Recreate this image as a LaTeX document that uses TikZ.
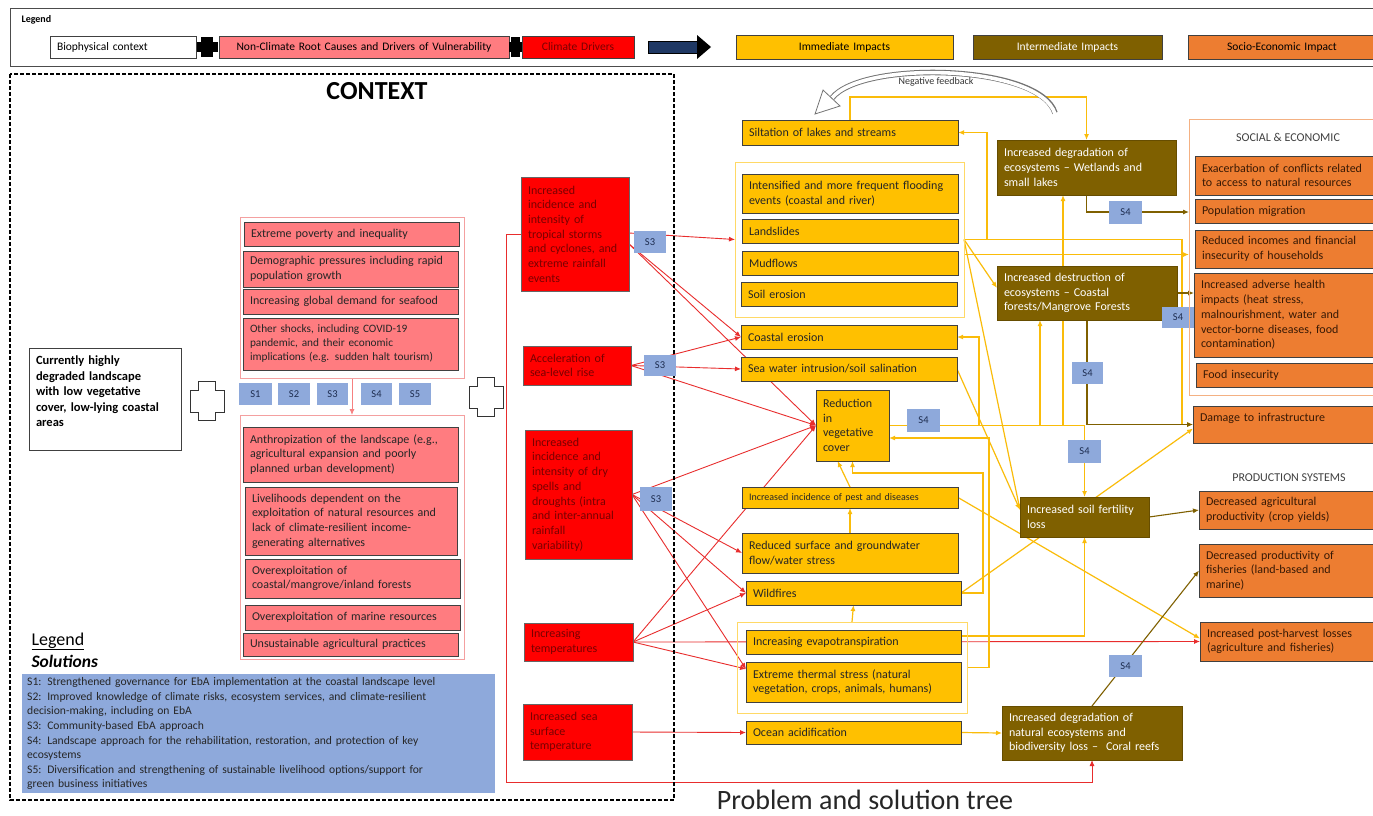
\documentclass[tikz,border=0pt]{standalone}
\usepackage{fontspec}
\setmainfont{Carlito}
\usetikzlibrary{arrows.meta,calc}

\definecolor{salmon}{HTML}{FF7C80}
\definecolor{salmonLine}{HTML}{F4A0A0}
\definecolor{cRed}{HTML}{FF0000}
\definecolor{cText}{RGB}{120,0,0}
\definecolor{amber}{HTML}{FFC000}
\definecolor{amberWire}{RGB}{250,188,10}
\definecolor{amberLine}{HTML}{FFD966}
\definecolor{myOlive}{HTML}{7F6000}
\definecolor{sOrange}{HTML}{ED7D31}
\definecolor{sOrangeLine}{HTML}{F4B183}
\definecolor{seText}{RGB}{55,25,5}
\definecolor{sBlue}{HTML}{8EA9DB}
\definecolor{sText}{RGB}{30,45,80}
\definecolor{redLine}{RGB}{232,45,45}
\definecolor{navy}{RGB}{31,56,100}

\pgfdeclarelayer{bg}
\pgfsetlayers{bg,main}

% box from corner (x1,y1) to corner (x2,y2), pixel-like units
\newcommand{\bx}[7]{%
  \pgfmathsetmacro{\bxW}{#4-(#2)}%
  \pgfmathsetmacro{\bxH}{#5-(#3)}%
  \pgfmathsetmacro{\bxT}{#4-(#2)-14}%
  \node[#6, anchor=north west, minimum width=\bxW pt, minimum height=\bxH pt, text width=\bxT pt] (#1) at (#2,#3) {#7};}

\tikzset{
  box/.style={draw=black!75, line width=0.9pt, inner xsep=7pt, inner ysep=1pt, outer sep=0pt, align=left},
  ncbox/.style={box, fill=salmon, text=black!85},
  cdbox/.style={box, fill=cRed, draw=black!60, text=cText},
  imbox/.style={box, fill=amber, text=black!85},
  inbox/.style={box, fill=myOlive, draw=myOlive!80!black, text=white},
  sebox/.style={box, fill=sOrange, text=seText},
  lgbox/.style={box, align=center, font=\fontsize{11.5}{13}\selectfont},
  sbox/.style={fill=sBlue, inner sep=0pt, outer sep=0pt, align=center, text=sText, font=\fontsize{10.5}{12}\selectfont},
  grp/.style={line width=0.9pt, inner sep=0pt, outer sep=0pt},
  rarr/.style={draw=redLine, line width=0.9pt, -{Latex[length=6pt,width=5pt]}},
  yarr/.style={draw=amberWire, line width=1.2pt, -{Latex[length=6pt,width=5pt]}},
  barr/.style={draw=myOlive, line width=1.1pt, -{Latex[length=6pt,width=5pt]}},
  plusw/.style={draw=black!80, line width=0.8pt, fill=white}
}

\begin{document}
\begin{tikzpicture}[x=1pt, y=-1pt, font=\fontsize{12}{14.7}\selectfont]
\useasboundingbox (0,0) rectangle (1373,815);
\begin{pgfonlayer}{bg}
  \fill[white] (0,0) rectangle (1373,815);
\end{pgfonlayer}

% ---------------- top legend ----------------
\node[draw=black!70, line width=0.8pt, anchor=north west, minimum width=1370pt, minimum height=58pt, inner sep=0pt, outer sep=0pt] (lgFrame) at (10,8) {};
\node[anchor=west, font=\bfseries\fontsize{10}{11}\selectfont] (lgTitle) at (18,20) {Legend};
\bx{lgBio}{50}{36}{196}{58}{lgbox, align=left, fill=white}{Biophysical context}
\bx{lgNon}{219}{36}{509}{58}{lgbox, fill=salmon}{Non-Climate Root Causes and Drivers of Vulnerability}
\bx{lgCli}{522}{36}{634}{58}{lgbox, fill=cRed, text=cText}{Climate Drivers}
\bx{lgImm}{736}{35}{953}{59}{lgbox, fill=amber}{Immediate Impacts}
\bx{lgInt}{973}{35}{1162}{59}{lgbox, fill=myOlive, text=white}{Intermediate Impacts}
\bx{lgSoc}{1188}{35}{1376}{59}{lgbox, fill=sOrange}{Socio-Economic Impact}
% black joints and block arrow
\fill[black] (201,37) rectangle (213,57);
\fill[black] (197,42) rectangle (218,52);
\fill[black] (511,37) rectangle (520,57);
\fill[black] (509,42) rectangle (522,52);
\filldraw[fill=navy, draw=black, line width=0.6pt] (648,41) -- (697,41) -- (697,53) -- (648,53) -- cycle;
\fill[black] (697,35) -- (711,47) -- (697,59) -- cycle;

% ---------------- context frame ----------------
\draw[black, line width=1.2pt, dash pattern=on 4pt off 2pt] (10,74) rectangle (674,800);
\node[font=\bfseries\fontsize{26}{28}\selectfont] (ctxTitle) at (377,91) {CONTEXT};

\bx{bio}{29}{348}{181}{450}{box, fill=white, font=\bfseries\fontsize{12.5}{15.5}\selectfont}{Currently highly\\ degraded landscape\\ with low vegetative\\ cover, low-lying coastal\\ areas\\ \mbox{}}

\draw[plusw] (198,381) -- (215,381) -- (215,390) -- (224,390) -- (224,412) -- (215,412) -- (215,420) -- (198,420) -- (198,412) -- (190,412) -- (190,390) -- (198,390) -- cycle;
\draw[plusw] (477,377) -- (494,377) -- (494,386) -- (503,386) -- (503,408) -- (494,408) -- (494,416) -- (477,416) -- (477,408) -- (469,408) -- (469,386) -- (477,386) -- cycle;

% non-climate root causes
\bx{gNon}{240}{217}{464}{378}{grp, draw=salmonLine}{}
\bx{n1}{244}{222}{459}{246}{ncbox}{Extreme poverty and inequality}
\bx{n2}{243}{251}{458}{287}{ncbox}{Demographic pressures including rapid\\ population growth}
\bx{n3}{243}{289}{458}{314}{ncbox}{Increasing global demand for seafood}
\bx{n4}{243}{318}{458}{370}{ncbox, font=\fontsize{11.3}{14}\selectfont}{Other shocks, including COVID-19\\ pandemic, and their economic\\ implications (e.g. sudden halt tourism)}

\bx{sA1}{239}{383}{272}{405}{sbox}{S1}
\bx{sA2}{278}{383}{310}{405}{sbox}{S2}
\bx{sA3}{317}{383}{348}{405}{sbox}{S3}
\bx{sA4}{361}{383}{392}{405}{sbox}{S4}
\bx{sA5}{399}{383}{431}{405}{sbox}{S5}

\bx{gLow}{240}{415}{464}{659}{grp, draw=salmonLine}{}
\bx{m1}{243}{427}{458}{482}{ncbox}{Anthropization of the landscape (e.g.,\\ agricultural expansion and poorly\\ planned urban development)}
\bx{m2}{245}{487}{457}{555}{ncbox}{Livelihoods dependent on the\\ exploitation of natural resources and\\ lack of climate-resilient income-\\ generating alternatives}
\bx{m3}{245}{559}{460}{598}{ncbox}{Overexploitation of\\ coastal/mangrove/inland forests}
\bx{m4}{245}{605}{460}{630}{ncbox}{Overexploitation of marine resources}
\bx{m5}{243}{633}{458}{656}{ncbox}{Unsustainable agricultural practices}

% solutions legend
\node[anchor=base west, font=\fontsize{18}{20}\selectfont] (solLg) at (28,645) {\underline{Legend}};
\node[anchor=base west, font=\bfseries\itshape\fontsize{17.5}{20}\selectfont] (solTitle) at (28,667) {Solutions};
\node[fill=sBlue, anchor=north west, minimum width=471pt, minimum height=119pt, text width=463pt, inner xsep=5pt, inner ysep=2pt, align=left, text=black!85, font=\fontsize{11.6}{14.6}\selectfont] (solBox) at (22,674) {S1: Strengthened governance for EbA implementation at the coastal landscape level\\
S2: Improved knowledge of climate risks, ecosystem services, and climate-resilient\\
decision-making, including on EbA\\
S3: Community-based EbA approach\\
S4: Landscape approach for the rehabilitation, restoration, and protection of key\\
ecosystems\\
S5: Diversification and strengthening of sustainable livelihood options/support for\\
green business initiatives};

% ---------------- climate drivers ----------------
\bx{cStorm}{521}{177}{629}{291}{cdbox}{Increased\\ incidence and\\ intensity of\\ tropical storms\\ and cyclones, and\\ extreme rainfall\\ events}
\bx{cSea}{523}{346}{631}{385}{cdbox}{Acceleration of\\ sea-level rise}
\bx{cDry}{525}{430}{632}{559}{cdbox}{Increased\\ incidence and\\ intensity of dry\\ spells and\\ droughts (intra\\ and inter-annual\\ rainfall\\ variability)}
\bx{cTemp}{524}{623}{633}{661}{cdbox}{Increasing\\ temperatures}
\bx{cSst}{523}{704}{632}{760}{cdbox}{Increased sea\\ surface\\ temperature}

\bx{s3a}{634}{231}{666}{253}{sbox}{S3}
\bx{s3b}{644}{355}{676}{376}{sbox}{S3}
\bx{s3c}{640}{487}{672}{511}{sbox}{S3}

% ---------------- immediate impacts ----------------
\bx{silt}{742}{120}{958}{145}{imbox}{Siltation of lakes and streams}
\bx{gFlood}{735}{162}{964}{317}{grp, draw=amberLine}{}
\bx{flood}{742}{174}{958}{213}{imbox}{Intensified and more frequent flooding\\ events (coastal and river)}
\bx{lands}{742}{219}{958}{243}{imbox}{Landslides}
\bx{mud}{742}{251}{958}{275}{imbox}{Mudflows}
\bx{soil}{741}{282}{957}{306}{imbox}{Soil erosion}
\bx{coast}{741}{325}{957}{349}{imbox}{Coastal erosion}
\bx{seaw}{741}{357}{957}{381}{imbox}{Sea water intrusion/soil salination}
\bx{veg}{816}{390}{889}{461}{imbox}{Reduction\\ in\\ vegetative\\ cover}
\bx{s4a}{907}{409}{940}{432}{sbox}{S4}
\bx{pest}{742}{487}{958}{508}{imbox, font=\fontsize{10}{11}\selectfont}{Increased incidence of pest and diseases}
\bx{water}{742}{533}{958}{573}{imbox}{Reduced surface and groundwater\\ flow/water stress}
\bx{fire}{746}{581}{961}{605}{imbox}{Wildfires}
\bx{gHeat}{737}{622}{967}{713}{grp, draw=amberLine}{}
\bx{evap}{746}{630}{961}{654}{imbox}{Increasing evapotranspiration}
\bx{heat}{746}{662}{961}{702}{imbox}{Extreme thermal stress (natural\\ vegetation, crops, animals, humans)}
\bx{ocean}{746}{721}{961}{744}{imbox}{Ocean acidification}

% ---------------- intermediate impacts ----------------
\bx{wet}{997}{140}{1176}{195}{inbox}{Increased degradation of\\ ecosystems -- Wetlands and\\ small lakes}
\bx{mang}{997}{266}{1177}{320}{inbox}{Increased destruction of\\ ecosystems -- Coastal\\ forests/Mangrove Forests}
\bx{fert}{1020}{497}{1149}{537}{inbox}{Increased soil fertility\\ loss}
\bx{coral}{1002}{706}{1182}{760}{inbox}{Increased degradation of\\ natural ecosystems and\\ biodiversity loss --\ \ Coral reefs}

\bx{s4b}{1109}{201}{1142}{224}{sbox}{S4}
\bx{s4c}{1162}{307}{1194}{328}{sbox}{S4}
\bx{s4d}{1072}{362}{1103}{384}{sbox}{S4}
\bx{s4e}{1068}{440}{1101}{463}{sbox}{S4}
\bx{s4f}{1109}{655}{1142}{677}{sbox}{S4}

% ---------------- socio-economic impacts ----------------
\bx{gSoc}{1189}{119}{1380}{395}{grp, draw=sOrangeLine}{}
\node[font=\fontsize{12}{13}\selectfont, text=black!75] (lblSoc) at (1288,137) {SOCIAL \& ECONOMIC};
\bx{o1}{1195}{156}{1376}{195}{sebox}{Exacerbation of conflicts related\\ to access to natural resources}
\bx{o2}{1195}{199}{1376}{223}{sebox}{Population migration}
\bx{o3}{1195}{230}{1376}{268}{sebox}{Reduced incomes and financial\\ insecurity of households}
\bx{o4}{1194}{273}{1376}{357}{sebox}{Increased adverse health\\ impacts (heat stress,\\ malnourishment, water and\\ vector-borne diseases, food\\ contamination)}
\bx{o5}{1196}{363}{1376}{387}{sebox}{Food insecurity}
\bx{o6}{1193}{406}{1376}{443}{sebox}{Damage to infrastructure\\ \mbox{}}
\node[font=\fontsize{12}{13}\selectfont, text=black!75] (lblProd) at (1289,478) {PRODUCTION SYSTEMS};
\bx{p1}{1199}{491}{1376}{529}{sebox}{Decreased agricultural\\ productivity (crop yields)}
\bx{p2}{1199}{544}{1376}{597}{sebox}{Decreased productivity of\\ fisheries (land-based and\\ marine)}
\bx{p3}{1200}{622}{1376}{661}{sebox}{Increased post-harvest losses\\ (agriculture and fisheries)}

% ---------------- negative feedback arrow ----------------
\draw[line width=5.5pt, draw=black!55] (1055,113) .. controls (1040,64) and (862,60) .. (832,98);
\draw[line width=3.6pt, draw=white] (1055,114) .. controls (1040,64) and (862,60) .. (832,98);
\filldraw[fill=white, draw=black!55, line width=0.8pt] (840,106) -- (815,114) -- (823,90) -- cycle;
\node[font=\fontsize{10}{11}\selectfont, text=black!80] (fbLabel) at (936,82) {Negative feedback};

\node[font=\fontsize{28}{30}\selectfont, text=black!85] (treeTitle) at (865,800) {Problem and solution tree};

% ---------------- connectors ----------------
\begin{pgfonlayer}{bg}
  \coordinate (jRL) at (506,782);
  \coordinate (jY1) at (850,97);
  \coordinate (jDm) at (1182,424.5);
  \coordinate (jInc) at ([yshift=-15pt]gFlood.east);
  \coordinate (jC) at (979,425.5);
  \coordinate (jM) at (1040,425.5);
  \coordinate (jW) at (1063,425.5);
  \coordinate (jF) at (983,473);
  \coordinate (jH) at (989,438);
  \coordinate (jE) at ([yshift=6pt]evap.east);
  \coordinate (jB1) at (1086.5,212);

  % non-climate causes
  \draw[draw=salmonLine!80!red, line width=0.9pt, -{Latex[length=6pt,width=5pt]}] (gNon.south) -- (gLow.north);

  % climate drivers (red)
  \draw[rarr] (cStorm.west) -| (jRL) -| (coral.south);
  \draw[rarr] ([yshift=1pt]cStorm.east) -- (gFlood.west);
  \draw[rarr] ([yshift=-10pt]cStorm.east) -- (coast.west);
  \draw[rarr] ([yshift=-10pt]cStorm.east) -- (veg.west);
  \draw[rarr] (cSea.east) -- (coast.west);
  \draw[rarr] (cSea.east) -- (seaw.west);
  \draw[rarr] (cSea.east) -- (veg.west);
  \draw[rarr] (cDry.east) -- (veg.west);
  \draw[rarr] (cDry.east) -- (water.west);
  \draw[rarr] (cDry.east) -- (fire.west);
  \draw[rarr] (cDry.east) -- ([yshift=13pt]heat.west);
  \draw[rarr] (cTemp.east) -- (veg.west);
  \draw[rarr] (cTemp.east) -- (fire.west);
  \draw[rarr] (cTemp.east) -- (p3.west);
  \draw[rarr] (cTemp.east) -- ([yshift=13pt]heat.west);
  \draw[rarr] (cSst.east) -- (ocean.west);

  % immediate impacts (amber)
  \draw[yarr] (silt.north) -- (jY1) -| (wet.north);
  \draw[yarr] (gFlood.east) -- ++(23,0) |- (silt.east);
  \draw[yarr] (gFlood.east) -| (jDm) -- (o6.west);
  \draw[yarr] (jInc) -- (jInc -| gSoc.west);
  \draw[yarr] (gFlood.east) -- ([yshift=5pt]mang.west);
  \draw[yarr] (gFlood.east) -- ([yshift=7pt]fert.west);
  \draw[yarr] (seaw.east) -- ([yshift=7pt]fert.west);
  \draw[yarr] (veg.east) -| (fert.north);
  \draw[yarr] (jC) |- (coast.east);
  \draw[yarr] (jM) -- (jM |- mang.south);
  \draw[yarr] (jW) -- (jW |- wet.south);
  \draw[yarr] (fire.east) -| (jF) -| (veg.south);
  \draw[yarr] (gHeat.east) -| (jH) -- (jH -| veg.east);
  \draw[yarr] (pest.north) -- ([xshift=-15pt]veg.south);
  \draw[yarr] (water.north) -- (pest.south);
  \draw[yarr] (gHeat.north) -- (fire.south);
  \draw[yarr] (jE) -| (fert.south);
  \draw[yarr] (fire.east) -- ([yshift=-4pt]o6.west);
  \draw[yarr] (pest.east) -- ([yshift=3pt]p3.west);
  \draw[yarr] (ocean.east) -- (coral.west);

  % intermediate impacts (olive)
  \draw[barr] (wet.south) -- (jB1) -- (jB1 -| gSoc.west);
  \draw[barr] (mang.east) -- (mang.east -| o4.west);
  \draw[barr] (mang.south) |- (o6.west);
  \draw[barr] (fert.east) -- (p1.west);
  \draw[barr] (coral.north) -- (p2.west);
\end{pgfonlayer}
\end{tikzpicture}
\end{document}
